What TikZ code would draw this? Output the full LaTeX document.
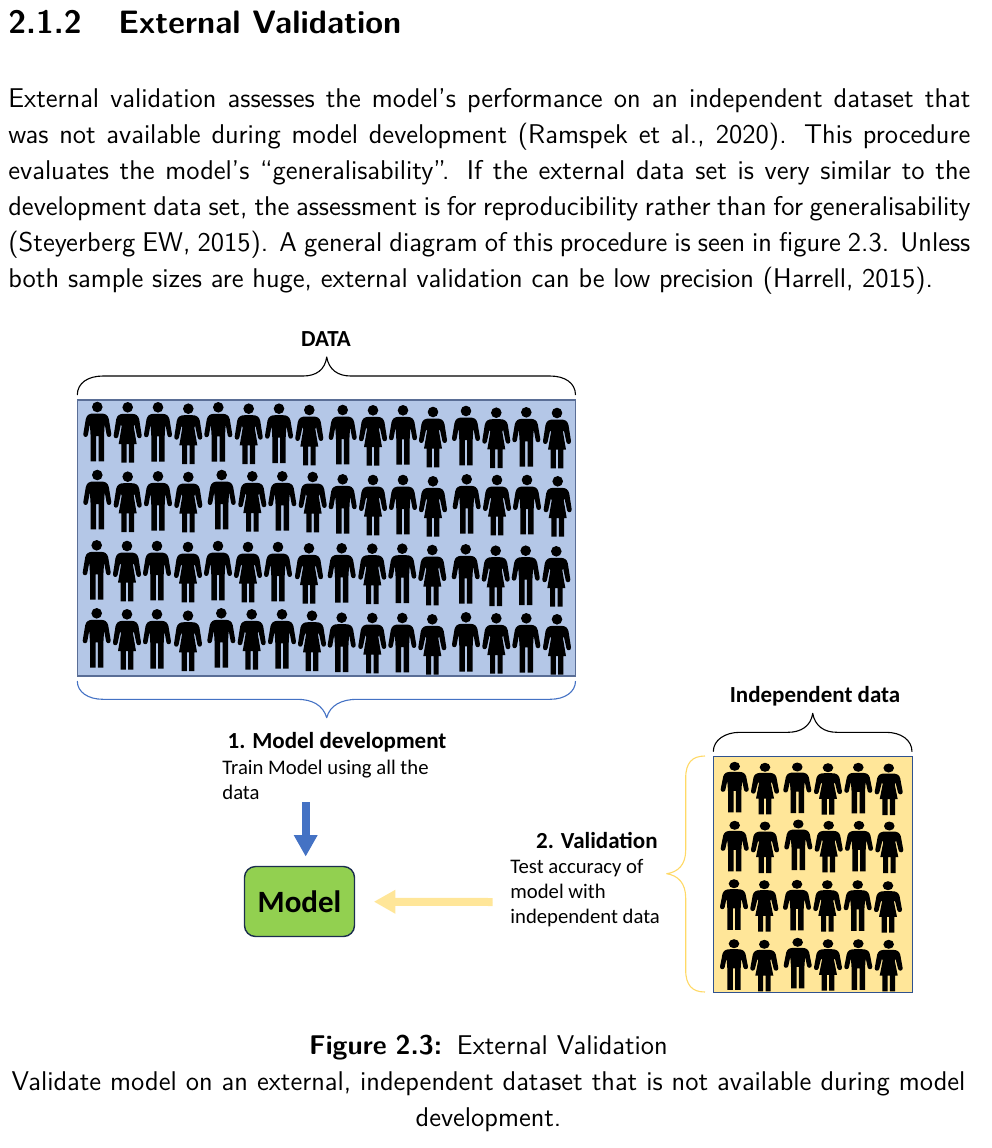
\documentclass[tikz,border=0pt]{standalone}
\usepackage{fontspec}
\usepackage{xcolor}
\newfontfamily\calibri{Carlito}
\usetikzlibrary{arrows.meta}
\definecolor{panelblue}{HTML}{B4C7E7}
\definecolor{panelyellow}{HTML}{FFE699}
\definecolor{braceyellow}{HTML}{FFD966}
\definecolor{arrowblue}{HTML}{4472C4}
\definecolor{modelgreen}{HTML}{92D050}
\definecolor{edgeslate}{HTML}{5A6E96}
\definecolor{edgenavy}{HTML}{2F528F}
\tikzset{
  page text/.style={inner sep=0, font=\sffamily\fontsize{13.54}{18}\selectfont},
  page head/.style={inner sep=0, anchor=base west, font=\sffamily\bfseries\fontsize{16.2}{18}\selectfont},
  slide bold/.style={inner sep=0, font=\calibri\bfseries\fontsize{11.5}{12.5}\selectfont},
  slide text/.style={inner sep=0, anchor=north west, align=left, font=\calibri\fontsize{10.35}{12.5}\selectfont},
  brace/.style={draw=black, line width=0.55pt, line join=round},
  block arrow/.style={-{Triangle[length=10.8pt,width=11.2pt]}, line width=4pt},
  man/.pic={
    \fill (0,0) circle (5.3);
    \fill (0,6.5) -- (4,6.5) .. controls (8,6.5) and (10.5,8) .. (11.5,12) -- (14,27) .. controls (14.3,30.5) and (10,31) .. (9.4,28) -- (7.4,17)
      -- (6.7,29) -- (6.7,54.3) -- (1.2,54.3) -- (1.2,29) -- (-1.2,29) -- (-1.2,54.3) -- (-6.7,54.3) -- (-6.7,29) -- (-7.4,17)
      -- (-9.4,28) .. controls (-10,31) and (-14.3,30.5) .. (-14,27) -- (-11.5,12) .. controls (-10.5,8) and (-8,6.5) .. (-4,6.5) -- cycle;
  },
  woman/.pic={
    \fill (0,0) circle (5.3);
    \fill (0,6.5) -- (4,6.5) .. controls (8,6.5) and (10.5,8) .. (11.5,12) -- (14,28) .. controls (14.3,31.5) and (10,32) .. (9.4,29) -- (6.8,17)
      -- (6,19) -- (9,36.7) -- (6.3,36.7) -- (6.3,55.3) -- (1.2,55.3) -- (1.2,36.7) -- (-1.2,36.7) -- (-1.2,55.3) -- (-6.3,55.3) -- (-6.3,36.7) -- (-9,36.7) -- (-6,19) -- (-6.8,17)
      -- (-9.4,29) .. controls (-10,32) and (-14.3,31.5) .. (-14,28) -- (-11.5,12) .. controls (-10.5,8) and (-8,6.5) .. (-4,6.5) -- cycle;
  },
}

\begin{document}
\begin{tikzpicture}[x=0.5pt, y=-0.5pt]
    \useasboundingbox (0,0) rectangle (992,1148);

    % heading and paragraph
    \node[page head] (number) at (8,33) {2.1.2};
    \node[page head] (heading) at (118,33) {External Validation};
    \node[page text, anchor=north west, text width=481pt, align=justify] (para) at (8,88) {External validation assesses the model's performance on an independent dataset that\linebreak
      was not available during model development (Ramspek et al., 2020). This procedure\linebreak
      evaluates the model's ``generalisability''. If the external data set is very similar to the\linebreak
      development data set, the assessment is for reproducibility rather than for generalisability\linebreak
      (Steyerberg EW, 2015). A general diagram of this procedure is seen in figure 2.3. Unless\linebreak
      both sample sizes are huge, external validation can be low precision (Harrell, 2015).};

    % panels
    \node[draw=edgeslate, fill=panelblue, line width=0.7pt, inner sep=0, minimum width=249pt, minimum height=138pt] (dataPanel) at (326.7,538) {};
    \node[draw=edgenavy, fill=panelyellow, line width=0.5pt, inner sep=0, minimum width=99.5pt, minimum height=118pt] (indepPanel) at (812.5,874) {};

    % data panel, men then women
    \foreach \hx/\hy in {97.3/407,158/407.3,218.3/407.3,279/408.7,342.7/410,403/410.3,466/411,526.3/412.3,
                         97.3/475,158/476.3,221.7/475,282.3/476.3,342.7/479.3,403/480,466.7/479.3,527/480,
                         96.7/545.3,157/546,218/546,278/547,341.7/548.3,402.3/548.7,465.7/549.3,525.7/550.7,
                         96.7/613.3,157/614.3,221.3/613.3,282/614.3,341.7/617.7,402.3/618,466/617.3,526.3/618.3}
      \pic at (\hx,\hy) {man};
    \foreach \hx/\hy in {127.7/407.3,188.3/408.7,248.7/408.7,309.3/410,373/410.3,433/412,496.3/412.7,557/413,
                         127.7/476.7,188.3/477,252.3/476.3,312.7/477,373/480,433/481.3,497/480,557.7/481.3,
                         127/546,188/547,248/547,309/548.3,372.3/548.7,432.3/550,495.7/550.7,556.3/551.3,
                         127/614.3,188/615.7,251.7/614.3,312/615.7,372.3/618,432.3/619.3,496.3/618.3,557/619.3}
      \pic at (\hx,\hy) {woman};

    % independent panel, figures a bit squashed
    \foreach \hx/\hy in {734.7/766.3,797.3/767,858.3/767.3,
                         734.7/825.3,798.3/824,859/825.3,
                         734/883.7,797/884.3,857.7/884.7,
                         734/943.7,797.7/942.3,858.3/943.7}
      \pic[yscale=0.85] at (\hx,\hy) {man};
    \foreach \hx/\hy in {765/767.3,828/767.7,888.7/768,
                         765/826,828.7/825.3,889.3/826,
                         764.3/884.7,827.3/884.7,888/885.7,
                         764.3/944.3,828/943.7,888.7/944.3}
      \pic[yscale=0.85] at (\hx,\hy) {woman};

    % braces
    \draw[brace] (77.3,395) .. controls (77.3,383) and (88,376) .. (103,376) -- (303,376) .. controls (316,376) and (325,370) .. (326.7,357) .. controls (329,370) and (338,376) .. (351,376) -- (550,376) .. controls (565,376) and (575.5,383) .. (575.5,395);
    \draw[brace, draw=arrowblue] (77.3,681) .. controls (77.3,692) and (88,699.3) .. (103,699.3) -- (297,699.3) .. controls (312,699.3) and (323,705) .. (326.7,717.7) .. controls (330,705) and (342,699.3) .. (357,699.3) -- (550,699.3) .. controls (565,699.3) and (575.5,692) .. (575.5,681);
    \draw[brace] (713.3,751.7) .. controls (713.3,740) and (725,732.3) .. (740,732.3) -- (788,732.3) .. controls (801,732.3) and (811,726) .. (812.7,713.3) .. controls (815,726) and (824,732.3) .. (837,732.3) -- (886,732.3) .. controls (901,732.3) and (912,740) .. (912,751.7);
    \draw[brace, draw=braceyellow] (705,756) .. controls (692,756) and (685.7,763) .. (685.7,778) -- (685.7,850) .. controls (685.7,865) and (678,872) .. (666.7,873.7) .. controls (678,875.5) and (685.7,883) .. (685.7,898) -- (685.7,970) .. controls (685.7,985) and (692,992) .. (705,992);

    % labels
    \node[slide bold] (dataLabel) at (326,339) {DATA};
    \node[slide bold] (indepLabel) at (815,696) {Independent data};
    \node[slide bold] (devLabel) at (337,742) {1. Model development};
    \node[slide text] (devText) at (222,759.5) {Train Model using all the\\data};
    \node[slide bold, anchor=east] (valLabel) at (658,840.5) {2. Validation};
    \node[slide text] (valText) at (510,858.5) {Test accuracy of\\model with\\independent data};

    % model and arrows
    \node[draw=black!60!arrowblue, fill=modelgreen, rounded corners=5.5pt, line width=0.7pt, inner sep=0, minimum width=55pt, minimum height=35pt, font=\calibri\bfseries\fontsize{15.5}{18}\selectfont] (model) at (299.5,901.5) {Model};
    \coordinate (blueStart) at (305.7,802);
    \coordinate (yellowStart) at (492.7,902);
    \draw[block arrow, draw=arrowblue, fill=arrowblue, shorten >=4.6pt] (blueStart) -- (blueStart |- model.north);
    \draw[block arrow, draw=panelyellow, fill=panelyellow, shorten >=9.3pt] (yellowStart) -- (model);

    % caption
    \node[page text, text width=490pt, align=center] (caption) at (488.5,1083.5) {\textbf{Figure 2.3:}\hspace{0.55em}External Validation\\
      Validate model on an external, independent dataset that is not available during model\\
      development.};
\end{tikzpicture}
\end{document}
